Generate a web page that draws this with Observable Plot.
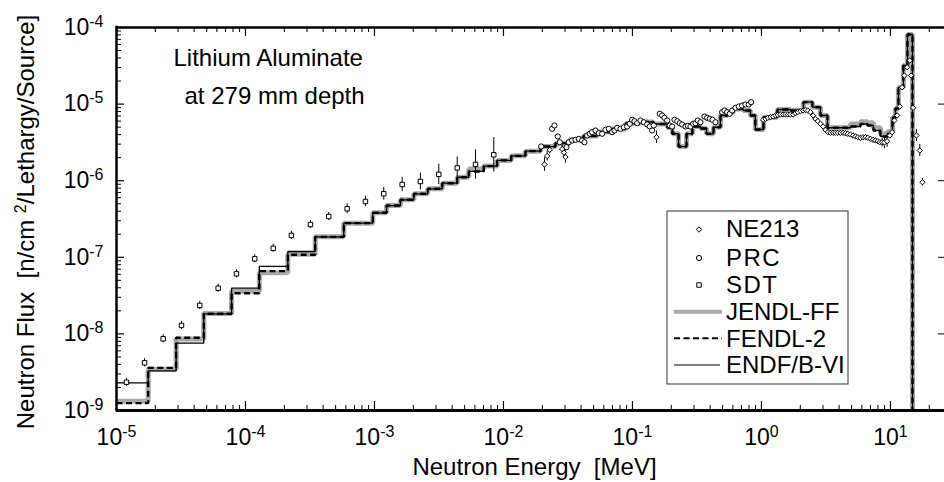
<!DOCTYPE html>
<html><head><meta charset="utf-8">
<script src="https://cdn.jsdelivr.net/npm/d3@7"></script>
<script src="https://cdn.jsdelivr.net/npm/@observablehq/plot@0.6"></script>
<style>
html,body{margin:0;padding:0;background:#fff;overflow:hidden;}
#chart{width:944px;height:482px;}
</style></head><body><div id="chart"></div>
<script>
const FONT = '"Liberation Sans", Arial, Helvetica, sans-serif';

// ---- histogram group structure (bin lower edges, last = upper edge) [MeV]
const energyEdges = [1.0e-5, 1.76e-5, 2.9e-5, 4.75e-5, 7.8e-5, 1.28e-4, 2.13e-4, 3.47e-4, 5.78e-4, 9.7e-4,
 1.24e-3, 1.59e-3, 2.02e-3, 2.59e-3, 3.35e-3, 4.38e-3, 5.38e-3, 7.03e-3, 8.93e-3, 1.15e-2,
 1.48e-2, 1.94e-2, 2.53e-2, 3.25e-2, 4.17e-2, 5.36e-2, 6.87e-2, 8.83e-2, 0.113, 0.1455,
 0.1866, 0.204, 0.2277, 0.2625, 0.2918, 0.3366, 0.375, 0.425, 0.481, 0.545,
 0.607, 0.724, 0.822, 0.897, 1.037, 1.331, 1.679, 2.117, 2.485, 2.866,
 3.25, 4.90, 5.85, 6.63, 7.38, 8.36, 9.48, 10.37, 10.94, 11.53,
 12.6, 13.55, 14.82, 20.0];

const endfFlux = [2.3e-9, 3.3e-9, 7.6e-9, 1.83e-8, 3.95e-8, 7.6e-8, 1.19e-7, 1.85e-7, 2.79e-7, 3.81e-7,
 4.74e-7, 5.63e-7, 6.75e-7, 7.84e-7, 9.27e-7, 1.11e-6, 1.32e-6, 1.55e-6, 1.84e-6, 2.11e-6,
 2.43e-6, 2.79e-6, 3.09e-6, 3.40e-6, 3.84e-6, 4.32e-6, 4.73e-6, 5.58e-6, 5.84e-6, 5.50e-6,
 4.95e-6, 4.10e-6, 2.79e-6, 4.10e-6, 5.10e-6, 4.80e-6, 4.10e-6, 4.99e-6, 7.10e-6, 7.84e-6,
 8.63e-6, 8.25e-6, 7.10e-6, 4.66e-6, 6.75e-6, 8.50e-6, 8.25e-6, 1.06e-5, 9.11e-6, 7.10e-6,
 4.91e-6, 5.10e-6, 5.50e-6, 5.26e-6, 4.52e-6, 3.78e-6, 4.13e-6, 6.68e-6, 8.76e-6, 1.65e-5,
 3.19e-5, 8.1e-5, 1e-12];

const fendlFlux = [1.25e-9, 3.6e-9, 8.9e-9, 1.83e-8, 3.4e-8, 6.6e-8, 1.08e-7, 1.85e-7, 2.79e-7, 3.81e-7,
 4.74e-7, 5.63e-7, 6.75e-7, 7.84e-7, 9.27e-7, 1.11e-6, 1.32e-6, 1.55e-6, 1.84e-6, 2.11e-6,
 2.43e-6, 2.79e-6, 3.09e-6, 3.40e-6, 3.84e-6, 4.32e-6, 4.73e-6, 5.58e-6, 5.84e-6, 5.50e-6,
 4.95e-6, 4.10e-6, 2.79e-6, 4.10e-6, 5.10e-6, 4.80e-6, 4.10e-6, 4.99e-6, 7.10e-6, 7.84e-6,
 8.63e-6, 8.25e-6, 7.10e-6, 4.66e-6, 6.75e-6, 8.50e-6, 8.25e-6, 1.06e-5, 9.11e-6, 7.10e-6,
 4.91e-6, 5.10e-6, 5.50e-6, 5.26e-6, 4.52e-6, 3.78e-6, 4.13e-6, 6.68e-6, 8.76e-6, 1.65e-5,
 3.19e-5, 8.1e-5, 1e-12];

const jendlFlux = [1.32e-9, 3.45e-9, 8.6e-9, 1.85e-8, 3.6e-8, 6.3e-8, 1.1e-7, 1.85e-7, 2.79e-7, 3.81e-7,
 4.74e-7, 5.63e-7, 6.75e-7, 7.84e-7, 9.27e-7, 1.11e-6, 1.42e-6, 1.55e-6, 1.84e-6, 2.11e-6,
 2.43e-6, 2.79e-6, 3.09e-6, 3.40e-6, 3.84e-6, 4.32e-6, 4.73e-6, 5.58e-6, 5.84e-6, 5.50e-6,
 4.95e-6, 4.10e-6, 2.79e-6, 4.10e-6, 5.10e-6, 4.80e-6, 4.10e-6, 4.99e-6, 7.10e-6, 7.84e-6,
 8.63e-6, 8.25e-6, 7.10e-6, 4.66e-6, 6.75e-6, 8.50e-6, 8.25e-6, 1.06e-5, 9.11e-6, 7.10e-6,
 4.91e-6, 5.5e-6, 5.9e-6, 5.7e-6, 4.9e-6, 4.1e-6, 4.4e-6, 6.68e-6, 8.76e-6, 1.65e-5,
 3.19e-5, 8.1e-5, 1e-12];

// ---- measurements
const sdtEnergy = [1.195e-5, 1.65e-5, 2.30e-5, 3.19e-5, 4.42e-5, 6.14e-5, 8.51e-5, 1.18e-4, 1.64e-4, 2.27e-4,
 3.19e-4, 4.42e-4, 6.14e-4, 8.51e-4, 1.18e-3, 1.64e-3, 2.27e-3, 3.15e-3, 4.38e-3, 6.07e-3, 8.41e-3];
const sdtFlux = [2.34e-9, 4.2e-9, 8.63e-9, 1.29e-8, 2.35e-8, 3.95e-8, 6.08e-8, 9.56e-8, 1.31e-7, 1.93e-7,
 2.68e-7, 3.41e-7, 4.30e-7, 5.35e-7, 6.75e-7, 8.92e-7, 9.77e-7, 1.21e-6, 1.47e-6, 1.63e-6, 2.18e-6];
const sdtErr = [0.13, 0.13, 0.13, 0.13, 0.13, 0.13, 0.13, 0.13, 0.13, 0.13,
 0.13, 0.13, 0.16, 0.17, 0.21, 0.24, 0.29, 0.36, 0.38, 0.55, 0.68];

const prcEnergy = [0.0196, 0.02384, 0.02485, 0.02636, 0.02732, 0.03079, 0.03208, 0.03408, 0.03614, 0.03835,
 0.04074, 0.04245, 0.04454, 0.04667, 0.04869, 0.05165, 0.05479, 0.05822, 0.06175, 0.06551,
 0.06961, 0.07253, 0.07609, 0.08072, 0.08563, 0.09097, 0.0953, 0.09947, 0.1036, 0.1088,
 0.1153, 0.1224, 0.13, 0.1362, 0.1421, 0.1463, 0.1627, 0.1699, 0.177, 0.1858,
 0.1946, 0.2031, 0.2117, 0.2221, 0.2326, 0.2428, 0.2576, 0.2684, 0.2816, 0.2954,
 0.3079, 0.3208, 0.3366, 0.3614, 0.3795, 0.3974, 0.4171, 0.4399, 0.4958, 0.5166,
 0.5421, 0.5679, 0.5929, 0.6288, 0.6668, 0.7086, 0.7516, 0.797, 0.832];
const prcFlux = [2.80e-6, 4.76e-6, 5.26e-6, 3.78e-6, 3.18e-6, 2.74e-6, 3.18e-6, 3.35e-6, 3.42e-6, 3.52e-6,
 3.35e-6, 3.18e-6, 3.89e-6, 4.10e-6, 4.30e-6, 4.52e-6, 4.17e-6, 4.10e-6, 4.62e-6, 4.76e-6,
 4.30e-6, 4.52e-6, 4.90e-6, 4.76e-6, 4.99e-6, 5.10e-6, 5.53e-6, 6.24e-6, 5.98e-6, 5.63e-6,
 6.11e-6, 5.80e-6, 5.42e-6, 5.10e-6, 4.52e-6, 5.26e-6, 7.47e-6, 7.10e-6, 6.62e-6, 6.11e-6,
 5.26e-6, 5.10e-6, 6.24e-6, 5.98e-6, 5.63e-6, 5.42e-6, 5.10e-6, 5.21e-6, 5.10e-6, 5.53e-6,
 5.63e-6, 6.11e-6, 5.80e-6, 6.89e-6, 6.62e-6, 6.43e-6, 6.24e-6, 5.80e-6, 7.84e-6, 8.25e-6,
 7.84e-6, 7.47e-6, 8.25e-6, 8.95e-6, 9.30e-6, 9.59e-6, 9.88e-6, 9.88e-6, 1.06e-5];

const ne213Energy = [0.02079, 0.02182, 0.02285, 0.02851, 0.02944, 0.03024, 0.1535,
 1.030, 1.074, 1.120, 1.174, 1.231, 1.284, 1.339, 1.404, 1.472, 1.535,
 1.600, 1.678, 1.760, 1.835, 1.912, 2.006, 2.104, 2.193, 2.287, 2.398,
 2.515, 2.622, 2.734, 2.867, 3.006, 3.134, 3.268, 3.426, 3.594, 3.747,
 3.906, 4.097, 4.297, 4.479, 4.670, 4.897, 5.135, 5.354, 5.582, 5.853,
 6.140, 6.402, 6.674, 6.998, 7.338, 7.650, 7.976, 8.266, 8.617, 8.985,
 9.423, 9.881, 10.30, 10.74, 11.27, 11.81, 12.31, 12.84, 13.47, 14.12,
 14.46, 14.99, 15.91, 16.88, 17.70];
const ne213Flux = [1.63e-6, 2.10e-6, 2.53e-6, 2.59e-6, 2.33e-6, 2.04e-6, 3.70e-6,
 6.23e-6, 6.42e-6, 6.62e-6, 6.75e-6, 6.89e-6, 7.10e-6, 7.24e-6, 7.31e-6, 7.31e-6, 7.31e-6,
 7.31e-6, 7.31e-6, 7.31e-6, 7.61e-6, 7.85e-6, 8.08e-6, 8.25e-6, 8.42e-6, 8.25e-6, 7.85e-6,
 7.10e-6, 6.42e-6, 5.99e-6, 5.53e-6, 5.10e-6, 4.61e-6, 4.30e-6, 4.22e-6, 4.22e-6, 4.22e-6,
 4.22e-6, 4.22e-6, 4.22e-6, 4.17e-6, 4.09e-6, 4.01e-6, 3.89e-6, 3.78e-6, 3.70e-6, 3.63e-6,
 3.70e-6, 3.70e-6, 3.63e-6, 3.52e-6, 3.42e-6, 3.35e-6, 3.28e-6, 3.18e-6, 3.18e-6, 3.15e-6,
 3.28e-6, 3.89e-6, 4.30e-6, 6.11e-6, 7.10e-6, 9.30e-6, 1.66e-5, 2.36e-5, 3.03e-5, 3.71e-5,
 2.36e-5, 8.94e-6, 3.89e-6, 2.48e-6, 9.56e-7];
const ne213Err = [0.23, 0.16, 0.13, 0.13, 0.16, 0.2, 0.2,
 0, 0, 0, 0, 0, 0, 0, 0, 0, 0,
 0, 0, 0, 0, 0, 0, 0, 0, 0, 0,
 0, 0, 0, 0, 0, 0, 0, 0, 0, 0,
 0, 0, 0, 0, 0, 0, 0, 0, 0, 0,
 0, 0, 0, 0, 0, 0, 0, 0, 0.15, 0.2,
 0.2, 0, 0, 0, 0, 0, 0, 0, 0, 0,
 0, 0, 0.2, 0.2, 0.12];

// ---- axis ticks and texts
const xMajor = [1e-5, 1e-4, 1e-3, 1e-2, 1e-1, 1, 10];
const yMajor = [1e-9, 1e-8, 1e-7, 1e-6, 1e-5, 1e-4];
const xMinor = []; for (let e = -5; e <= 1; e++) for (let k = 2; k <= 9; k++) { const v = k * Math.pow(10, e); if (v < 27) xMinor.push(v); }
const yMinor = []; for (let e = -9; e <= -5; e++) for (let k = 2; k <= 9; k++) yMinor.push(k * Math.pow(10, e));
const xTitle = "Neutron Energy  [MeV]";
const yTitle = "Neutron Flux  [n/cm ^{2}/Lethargy/Source]";
const note1 = "Lithium Aluminate";
const note2 = "at 279 mm depth";
const legendItems = ["NE213", "PRC", "SDT", "JENDL-FF", "FENDL-2", "ENDF/B-VI"];

const hist = (vals) => energyEdges.map((E, i) => ({E, v: vals[Math.min(i, vals.length - 1)]}));
const sdt = sdtEnergy.map((E, i) => ({E, v: sdtFlux[i], e: sdtErr[i]}));
const prc = prcEnergy.map((E, i) => ({E, v: prcFlux[i]}));
const ne = ne213Energy.map((E, i) => ({E, v: ne213Flux[i], e: ne213Err[i]}));
const sup = (d) => "10^{" + Math.round(Math.log10(d)) + "}";

const R_CIRC = 2.6, R_SQ = 2.5, R_DIA = 2.4;

const chart = Plot.plot({
  width: 944, height: 482,
  marginLeft: 116, marginRight: 0, marginTop: 27, marginBottom: 72,
  style: {fontFamily: FONT, fontSize: "23px", background: "white", color: "black"},
  x: {type: "log", domain: [1e-5, 27.2], range: [116, 946]},
  y: {type: "log", domain: [1e-9, 1e-4]},
  marks: [
    // histograms
    Plot.line(hist(jendlFlux), {x: "E", y: "v", curve: "step-after", stroke: "#a8a8a8", strokeWidth: 5, strokeLinejoin: "miter", strokeLinecap: "butt", clip: true}),
    Plot.line(hist(fendlFlux), {x: "E", y: "v", curve: "step-after", stroke: "black", strokeWidth: 2.4, strokeDasharray: "6,3.5", strokeLinejoin: "miter", strokeLinecap: "butt", clip: true}),
    Plot.line(hist(endfFlux), {x: "E", y: "v", curve: "step-after", stroke: "black", strokeWidth: 1.3, strokeLinejoin: "miter", strokeLinecap: "butt", clip: true}),
    // error bars
    Plot.ruleX(sdt, {x: "E", y1: d => d.v / (1 + d.e), y2: d => d.v * (1 + d.e), stroke: "black", strokeWidth: 1}),
    Plot.ruleX(ne.filter(d => d.e > 0), {x: "E", y1: d => d.v / (1 + d.e), y2: d => d.v * (1 + d.e), stroke: "black", strokeWidth: 1}),
    // points
    Plot.dot(prc, {x: "E", y: "v", symbol: "circle", r: R_CIRC, stroke: "black", fill: "white", strokeWidth: 1}),
    Plot.dot(ne, {x: "E", y: "v", symbol: "diamond2", r: R_DIA, stroke: "black", fill: "white", strokeWidth: 1}),
    Plot.dot(sdt, {x: "E", y: "v", symbol: "square", r: R_SQ, stroke: "black", fill: "white", strokeWidth: 1}),
    // frame
    Plot.ruleY([1e-9], {stroke: "black", strokeWidth: 3}),
    Plot.ruleY([1e-4], {stroke: "black", strokeWidth: 2.5}),
    Plot.ruleX([1e-5], {stroke: "black", strokeWidth: 2.5, insetTop: -1.25, insetBottom: -1.5}),
    // inward ticks
    Plot.tickX(xMajor, {x: d => d, insetTop: 374, stroke: "black", strokeWidth: 1.2}),
    Plot.tickX(xMinor, {x: d => d, insetTop: 378, stroke: "black", strokeWidth: 1}),
    Plot.tickX(xMajor, {x: d => d, insetBottom: 374, stroke: "black", strokeWidth: 1.2}),
    Plot.tickX(xMinor, {x: d => d, insetBottom: 378, stroke: "black", strokeWidth: 1}),
    Plot.tickY(yMajor, {y: d => d, insetRight: 820, stroke: "black", strokeWidth: 1.2}),
    Plot.tickY(yMinor, {y: d => d, insetRight: 823, stroke: "black", strokeWidth: 1}),
    Plot.tickY(yMajor, {y: d => d, insetLeft: 822, stroke: "black", strokeWidth: 1}),
    // tick labels
    Plot.axisX({ticks: xMajor, anchor: "bottom", tickSize: 0, tickPadding: 18.5, tickFormat: sup, fontSize: 23, label: null}),
    Plot.axisY({ticks: yMajor, anchor: "left", tickSize: 0, tickPadding: 13, tickFormat: sup, fontSize: 23, label: null}),
    // titles and notes
    Plot.text([xTitle], {text: d => d, frameAnchor: "bottom", dx: 4, dy: 64, lineAnchor: "bottom", textAnchor: "middle", fontSize: 24}),
    Plot.text([yTitle], {text: d => d, frameAnchor: "left", rotate: -90, dx: -83, dy: 3, lineAnchor: "bottom", textAnchor: "middle", fontSize: 24}),
    Plot.text([note1], {text: d => d, frameAnchor: "top-left", dx: 57, dy: 38.7, lineAnchor: "bottom", textAnchor: "start", fontSize: 24}),
    Plot.text([note2], {text: d => d, frameAnchor: "top-left", dx: 68, dy: 76, lineAnchor: "bottom", textAnchor: "start", fontSize: 24})
  ]
});

// superscripts: "a^{b}c"
d3.select(chart).selectAll("text").each(function () {
  const t = this.textContent;
  if (!t.includes("^{")) return;
  const parts = t.split(/(\^\{[^}]*\})/).filter(p => p);
  const sel = d3.select(this);
  sel.text(null);
  let raised = false;
  for (const p of parts) {
    const m = p.match(/^\^\{([^}]*)\}$/);
    if (m) { sel.append("tspan").attr("dy", -8).attr("font-size", 16).text(m[1]); raised = true; }
    else { const ts = sel.append("tspan").text(p); if (raised) { ts.attr("dy", 8); raised = false; } }
  }
});

// legend
const lg = d3.select(chart).append("g").attr("font-family", FONT).attr("font-size", 24)
  .attr("fill", "black").attr("text-anchor", "start");
lg.append("rect").attr("x", 667).attr("y", 211).attr("width", 181).attr("height", 173)
  .attr("fill", "white").attr("stroke", "#333").attr("stroke-width", 1);
const symY = [229.5, 258, 285];
const symTypes = [[d3.symbolDiamond2, R_DIA], [d3.symbolCircle, R_CIRC], [d3.symbolSquare, R_SQ]];
symTypes.forEach(([s, r], i) => {
  lg.append("path").attr("d", d3.symbol(s, Math.PI * r * r)()).attr("transform", `translate(699,${symY[i]})`)
    .attr("fill", "white").attr("stroke", "black").attr("stroke-width", 1);
});
const lineY = [311.7, 338.3, 365];
lg.append("line").attr("x1", 674).attr("x2", 722).attr("y1", lineY[0]).attr("y2", lineY[0]).attr("stroke", "#a8a8a8").attr("stroke-width", 4);
lg.append("line").attr("x1", 674).attr("x2", 722).attr("y1", lineY[1]).attr("y2", lineY[1]).attr("stroke", "black").attr("stroke-width", 2).attr("stroke-dasharray", "6,3.5");
lg.append("line").attr("x1", 674).attr("x2", 720).attr("y1", lineY[2]).attr("y2", lineY[2]).attr("stroke", "black").attr("stroke-width", 1);
const textY = [237, 266, 293, 320, 347, 373];
legendItems.forEach((s, i) => {
  const t = lg.append("text").attr("x", 726).attr("y", textY[i]).attr("text-anchor", "start").text(s);
  if (s === "PRC" || s === "SDT") t.attr("letter-spacing", 1.5);
});

document.getElementById("chart").appendChild(chart);
</script>
</body></html>
